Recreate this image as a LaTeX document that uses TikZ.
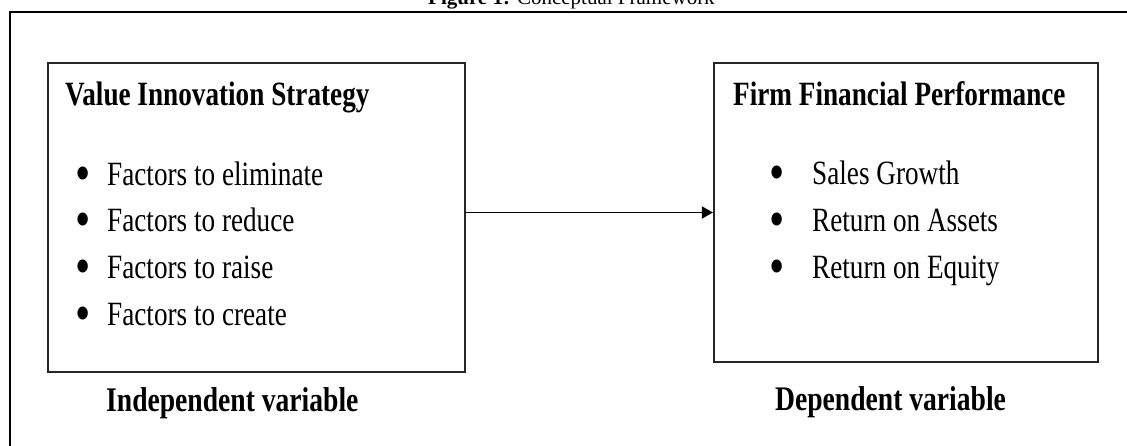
\documentclass[tikz,border=0pt]{standalone}
\usepackage{fontspec}
\setmainfont{Liberation Serif}
\newfontfamily\condfont{Liberation Serif}[FakeStretch=0.8]
\usetikzlibrary{positioning, arrows.meta}
\newcommand{\bigdot}{\smash{\raisebox{-6pt}{\scalebox{1.6}{\textbullet}}}}

\tikzset{
  box/.style={draw=black!85, line width=1.8pt, inner sep=0pt},
  head/.style={font=\condfont\bfseries\fontsize{34}{40}\selectfont, inner sep=0pt, anchor=base west},
  item/.style={font=\condfont\fontsize{34}{40}\selectfont, inner sep=0pt},
  varlabel/.style={font=\condfont\bfseries\fontsize{34.5}{40}\selectfont, inner sep=0pt, anchor=base west},
  flow/.style={line width=1.8pt, -{Triangle[length=11pt,width=12pt]}}
}

\begin{document}
\begin{tikzpicture}[x=1pt, y=-1pt]
        \useasboundingbox (0,0) rectangle (1127,445);
        \clip (0,0) rectangle (1127,445);

        % caption and outer frame
        \node[font=\fontsize{21}{24}\selectfont, anchor=base west, inner sep=0pt] (caption) at (428,4) {\textbf{Figure 1:} Conceptual Framework};
        \draw[line width=2pt] (9.5,470) -- (9.5,11.5) -- (1150,11.5);

        % the two boxes
        \node[box, minimum width=417pt, minimum height=309pt] (vis) at (256.5,217.5) {};
        \node[box, minimum width=384pt, minimum height=299pt, right=247pt of vis.north east, anchor=north west] (ffp) {};

        % left box
        \node[head] (vish) at (65,105) {Value Innovation Strategy};
        \node[item, below right=80pt and 10pt of vish.base west, anchor=base west] (elim) {\makebox[32pt][l]{\bigdot}Factors to eliminate};
        \node[item, below=46.7pt of elim.base west, anchor=base west] (redu) {\makebox[32pt][l]{\bigdot}Factors to reduce};
        \node[item, below=46.7pt of redu.base west, anchor=base west] (rais) {\makebox[32pt][l]{\bigdot}Factors to raise};
        \node[item, below=46.7pt of rais.base west, anchor=base west] (crea) {\makebox[32pt][l]{\bigdot}Factors to create};

        % right box
        \node[head] (ffph) at (733,105) {Firm Financial Performance};
        \node[item, below right=79pt and 36.5pt of ffph.base west, anchor=base west] (sales) {\makebox[42.5pt][l]{\bigdot}Sales Growth};
        \node[item, below=47pt of sales.base west, anchor=base west] (roa) {\makebox[42.5pt][l]{\bigdot}Return on Assets};
        \node[item, below=47pt of roa.base west, anchor=base west] (roe) {\makebox[42.5pt][l]{\bigdot}Return on Equity};

        \draw[flow] (vis.east |- ffp.west) -- (ffp.west);

        % variable labels
        \node[varlabel] (ivar) at (106,411) {Independent variable};
        \node[varlabel] (dvar) at (775,410) {Dependent variable};
\end{tikzpicture}
\end{document}
